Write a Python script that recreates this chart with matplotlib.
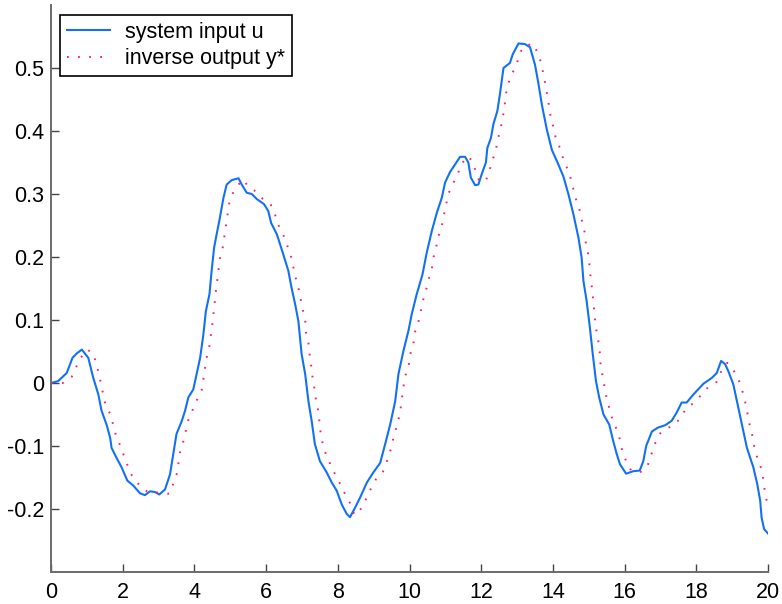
import numpy as np
import matplotlib.pyplot as plt

plt.rcParams['font.family'] = ['Liberation Sans', 'DejaVu Sans']

# system input u
t_u = [0.0, 0.2, 0.44, 0.6, 0.72, 0.86, 1.04, 1.18, 1.32, 1.41, 1.55, 1.65, 1.69, 1.83, 1.97,
       2.13, 2.30, 2.48, 2.62, 2.76, 2.90, 3.02, 3.18, 3.32, 3.41, 3.50, 3.65, 3.74, 3.83, 3.97,
       4.06, 4.16, 4.25, 4.32, 4.42, 4.48, 4.55, 4.62, 4.71, 4.81, 4.90, 5.04, 5.23, 5.32, 5.46,
       5.60, 5.74, 5.94, 6.06, 6.14, 6.30, 6.48, 6.62, 6.71, 6.81, 6.90, 6.99, 7.09, 7.18, 7.27,
       7.36, 7.50, 7.69, 7.83, 7.97, 8.11, 8.25, 8.34, 8.48, 8.62, 8.81, 8.99, 9.18, 9.32, 9.46,
       9.60, 9.69, 9.83, 9.97, 10.06, 10.20, 10.36, 10.48, 10.62, 10.76, 10.90, 10.99, 11.13,
       11.27, 11.41, 11.55, 11.64, 11.71, 11.83, 11.92, 12.01, 12.13, 12.17, 12.27, 12.34, 12.45,
       12.52, 12.62, 12.80, 12.88, 13.04, 13.22, 13.36, 13.50, 13.59, 13.69, 13.83, 13.97, 14.15,
       14.29, 14.43, 14.57, 14.71, 14.80, 14.85, 14.94, 15.03, 15.11, 15.20, 15.29, 15.41, 15.57,
       15.68, 15.78, 15.87, 16.04, 16.24, 16.42, 16.52, 16.60, 16.76, 16.92, 17.13, 17.31, 17.45,
       17.59, 17.73, 17.92, 18.20, 18.43, 18.57, 18.69, 18.80, 18.89, 19.03, 19.17, 19.27, 19.41,
       19.59, 19.70, 19.78, 19.82, 19.89, 20.0]
u = [0.0, 0.003, 0.016, 0.040, 0.047, 0.053, 0.040, 0.008, -0.018, -0.044, -0.066, -0.087,
     -0.103, -0.119, -0.134, -0.155, -0.163, -0.175, -0.178, -0.172, -0.173, -0.177, -0.169,
     -0.145, -0.113, -0.081, -0.060, -0.044, -0.023, -0.010, 0.014, 0.040, 0.077, 0.114, 0.141,
     0.178, 0.215, 0.236, 0.262, 0.294, 0.315, 0.322, 0.325, 0.315, 0.302, 0.300, 0.292, 0.284,
     0.273, 0.254, 0.236, 0.204, 0.178, 0.151, 0.125, 0.098, 0.046, 0.014, -0.029, -0.060,
     -0.097, -0.124, -0.142, -0.158, -0.171, -0.193, -0.208, -0.213, -0.198, -0.182, -0.158,
     -0.142, -0.127, -0.097, -0.066, -0.029, 0.014, 0.051, 0.083, 0.109, 0.141, 0.172, 0.207,
     0.241, 0.270, 0.294, 0.318, 0.335, 0.347, 0.359, 0.359, 0.350, 0.326, 0.314, 0.315, 0.331,
     0.350, 0.373, 0.389, 0.411, 0.432, 0.458, 0.500, 0.508, 0.522, 0.539, 0.538, 0.533, 0.505,
     0.477, 0.442, 0.402, 0.370, 0.347, 0.328, 0.300, 0.268, 0.231, 0.199, 0.162, 0.130, 0.088,
     0.046, 0.003, -0.023, -0.050, -0.066, -0.092, -0.113, -0.129, -0.144, -0.140, -0.139,
     -0.124, -0.100, -0.077, -0.071, -0.067, -0.060, -0.047, -0.031, -0.031, -0.018, -0.001,
     0.008, 0.016, 0.035, 0.030, 0.019, -0.002, -0.039, -0.066, -0.103, -0.134, -0.161, -0.187,
     -0.214, -0.232, -0.239]

# inverse output y*
t_y = [0.0, 0.33, 0.58, 0.70, 0.83, 1.01, 1.18, 1.26, 1.34, 1.40, 1.52, 1.66, 1.81, 1.92, 2.13,
       2.25, 2.39, 2.57, 2.76, 3.09, 3.30, 3.41, 3.51, 3.60, 3.69, 3.83, 3.95, 4.06, 4.20, 4.25,
       4.34, 4.42, 4.50, 4.60, 4.71, 4.79, 4.88, 4.97, 5.07, 5.23, 5.35, 5.53, 5.72, 5.91, 6.13,
       6.25, 6.34, 6.48, 6.59, 6.69, 6.76, 6.82, 6.90, 6.96, 7.02, 7.09, 7.11, 7.18, 7.21, 7.25,
       7.29, 7.34, 7.38, 7.44, 7.48, 7.51, 7.56, 7.64, 7.76, 7.89, 8.03, 8.15, 8.31, 8.41, 8.48,
       8.67, 8.92, 9.06, 9.25, 9.36, 9.46, 9.53, 9.61, 9.69, 9.75, 9.79, 9.83, 9.88, 9.98, 10.01,
       10.11, 10.14, 10.24, 10.31, 10.37, 10.46, 10.53, 10.62, 10.66, 10.74, 10.80, 10.90, 10.96,
       11.02, 11.08, 11.20, 11.34, 11.44, 11.62, 11.76, 11.85, 11.95, 12.13, 12.23, 12.31, 12.41,
       12.46, 12.54, 12.59, 12.65, 12.67, 12.73, 12.82, 12.96, 13.05, 13.15, 13.43, 13.58, 13.67,
       13.73, 13.79, 13.84, 13.89, 13.94, 14.02, 14.08, 14.21, 14.29, 14.41, 14.51, 14.58, 14.66,
       14.76, 14.82, 14.89, 14.92, 14.99, 15.02, 15.05, 15.09, 15.12, 15.15, 15.18, 15.22, 15.28,
       15.31, 15.33, 15.39, 15.44, 15.50, 15.58, 15.66, 15.78, 15.87, 15.93, 16.04, 16.18, 16.45,
       16.63, 16.73, 16.82, 16.95, 17.13, 17.39, 17.57, 17.73, 17.92, 18.12, 18.32, 18.57, 18.69,
       18.86, 19.03, 19.18, 19.28, 19.36, 19.42, 19.47, 19.55, 19.60, 19.67, 19.78, 19.85, 19.89,
       19.94, 20.0]
y_star = [0.0, 0.0, 0.010, 0.025, 0.040, 0.053, 0.047, 0.031, 0.014, -0.003, -0.035, -0.050,
          -0.083, -0.098, -0.130, -0.146, -0.157, -0.169, -0.174, -0.174, -0.176, -0.160, -0.144,
          -0.110, -0.093, -0.059, -0.043, -0.028, -0.012, 0.006, 0.040, 0.059, 0.093, 0.146,
          0.197, 0.215, 0.250, 0.285, 0.301, 0.315, 0.323, 0.310, 0.304, 0.292, 0.283, 0.267,
          0.251, 0.235, 0.218, 0.202, 0.184, 0.168, 0.151, 0.134, 0.117, 0.100, 0.081, 0.064,
          0.047, 0.030, 0.011, -0.006, -0.023, -0.040, -0.058, -0.075, -0.092, -0.109, -0.125,
          -0.141, -0.156, -0.171, -0.186, -0.203, -0.210, -0.198, -0.168, -0.153, -0.142, -0.126,
          -0.109, -0.092, -0.075, -0.059, -0.041, -0.023, -0.006, 0.011, 0.028, 0.044, 0.062,
          0.079, 0.095, 0.113, 0.130, 0.147, 0.164, 0.180, 0.198, 0.215, 0.232, 0.249, 0.267,
          0.283, 0.300, 0.315, 0.331, 0.347, 0.360, 0.352, 0.335, 0.320, 0.321, 0.337, 0.353,
          0.370, 0.387, 0.403, 0.420, 0.436, 0.454, 0.470, 0.487, 0.502, 0.517, 0.533, 0.539,
          0.524, 0.508, 0.491, 0.474, 0.457, 0.440, 0.421, 0.405, 0.388, 0.371, 0.355, 0.339,
          0.322, 0.305, 0.288, 0.272, 0.254, 0.238, 0.220, 0.203, 0.186, 0.167, 0.150, 0.133,
          0.115, 0.097, 0.080, 0.062, 0.046, 0.027, 0.010, -0.007, -0.025, -0.042, -0.058,
          -0.074, -0.090, -0.107, -0.124, -0.139, -0.141, -0.133, -0.116, -0.100, -0.082,
          -0.073, -0.067, -0.054, -0.039, -0.032, -0.020, -0.007, 0.002, 0.018, 0.032, 0.021,
          0.005, -0.012, -0.030, -0.046, -0.063, -0.080, -0.097, -0.114, -0.130, -0.146, -0.165,
          -0.181, -0.199]

x_ticks = [0, 2, 4, 6, 8, 10, 12, 14, 16, 18, 20]
y_ticks = [-0.2, -0.1, 0, 0.1, 0.2, 0.3, 0.4, 0.5]
y_labels = ['-0.2', '-0.1', '0', '0.1', '0.2', '0.3', '0.4', '0.5']

fig = plt.figure(figsize=(7.82, 6.04), dpi=100)
ax = fig.add_axes([0.0652, 0.053, 0.917, 0.9387])

ax.plot(t_u, u, color='#1370f5', lw=1.5, label='system input u')
ax.plot(t_y, y_star, color='#ff1f5e', lw=1.4, linestyle=(0, (0.9, 4.8)),
        label='inverse output y*')

ax.set_xlim(0, 20)
ax.set_ylim(-0.3, 0.6)
ax.set_xticks(x_ticks)
ax.set_xticklabels([str(v) for v in x_ticks])
ax.set_yticks(y_ticks)
ax.set_yticklabels(y_labels)

for side in ['top', 'right']:
    ax.spines[side].set_visible(False)
for side in ['left', 'bottom']:
    ax.spines[side].set_color('#6b6b6b')
    ax.spines[side].set_linewidth(1.4)
ax.tick_params(direction='in', length=5.5, width=1.0, color='#444444',
               labelsize=15.5, labelcolor='black', pad=5)
ax.tick_params(axis='x', pad=7)

leg = ax.legend(loc='upper left', bbox_to_anchor=(9 / 717, 1 - 10 / 567),
                borderaxespad=0, fontsize=15.5, fancybox=False, framealpha=1,
                edgecolor='black', handlelength=2.0, handletextpad=0.7,
                borderpad=0.32, labelspacing=0.25)
leg.get_frame().set_linewidth(1.2)

fig.savefig('out.png', dpi=100)
